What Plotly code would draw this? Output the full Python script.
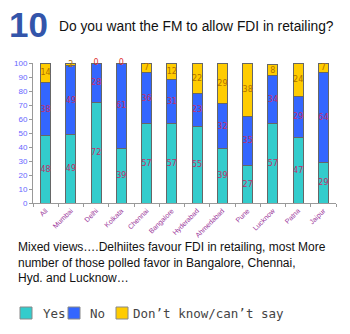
import plotly.graph_objects as go

cities = ["All", "Mumbai", "Delhi", "Kolkata", "Chennai", "Bangalore", "Hyderabad",
          "Ahmedabad", "Pune", "Lucknow", "Patna", "Jaipur"]
yes_vals = [48, 49, 72, 39, 57, 57, 55, 39, 27, 57, 47, 29]
no_vals = [38, 49, 28, 61, 36, 31, 23, 32, 35, 34, 29, 64]
dk_vals = [14, 2, 0, 0, 7, 12, 22, 29, 38, 8, 24, 7]

series = [
    ("Yes", yes_vals, "#33cccc", "#c0306a"),
    ("No", no_vals, "#3366ff", "#c0306a"),
    ("Don\u2019t know/can\u2019t say", dk_vals, "#ffcc00", "#b07000"),
]

W, H = 350, 334
ml, mr, mt, mb = 33, 14, 63, 131
pw, ph = W - ml - mr, H - mt - mb


def px_x(x):
    return (x - ml) / pw


def px_y(y):
    return 1 - (y - mt) / ph


fig = go.Figure()
for name, vals, color, tcolor in series:
    fig.add_trace(go.Bar(
        x=cities, y=vals, name=name,
        marker=dict(color=color, line=dict(color="#666666", width=1)),
        width=0.4,
        text=[str(v) if v > 0 else "" for v in vals],
        textposition="inside",
        insidetextanchor="middle",
        constraintext="none",
        textangle=0,
        textfont=dict(family="DejaVu Sans", size=8, color=tcolor),
        cliponaxis=False,
        hoverinfo="skip",
        showlegend=False,
    ))

# zero-height segments: label drawn at the top of the stack, as in the reference
zero_x, zero_y, zero_t = [], [], []
for i, c in enumerate(cities):
    if dk_vals[i] == 0:
        zero_x.append(c)
        zero_y.append(yes_vals[i] + no_vals[i] + dk_vals[i])
        zero_t.append(str(dk_vals[i]))
fig.add_trace(go.Scatter(
    x=zero_x, y=zero_y, text=zero_t, mode="text", textposition="middle center",
    textfont=dict(family="DejaVu Sans", size=8, color="#e03030"),
    cliponaxis=False, hoverinfo="skip", showlegend=False,
))

# manual legend (squares + labels) matching the reference layout
legend_sq_x = [20, 68, 116]
legend_txt_x = [41, 88, 131]
shapes = []
annotations = []
for (name, vals, color, tcolor), sx, tx in zip(series, legend_sq_x, legend_txt_x):
    shapes.append(dict(type="rect", xref="paper", yref="paper",
                       x0=px_x(sx), x1=px_x(sx + 12), y0=px_y(307), y1=px_y(319),
                       fillcolor=color, line=dict(color="#888888", width=1)))
    annotations.append(dict(text=name, x=px_x(tx), y=px_y(313), xref="paper", yref="paper",
                            showarrow=False, xanchor="left", yanchor="middle",
                            font=dict(family="DejaVu Sans Mono", size=12.5, color="#444444")))

annotations += [
    dict(text="<b>10</b>", x=px_x(7), y=px_y(3), xref="paper", yref="paper", showarrow=False,
         xanchor="left", yanchor="top",
         font=dict(family="Liberation Sans", size=35, color="#3355aa")),
    dict(text="Do you want the FM to allow FDI in retailing?", x=px_x(57), y=px_y(26),
         xref="paper", yref="paper",
         showarrow=False, xanchor="left", yanchor="middle",
         font=dict(family="Liberation Sans", size=13.8, color="#111111")),
    dict(text="Mixed views\u2026.Delhiites favour FDI in retailing, most More<br>"
              "number of those polled favor in Bangalore, Chennai,<br>"
              "Hyd. and Lucknow\u2026",
         x=px_x(16), y=px_y(238), xref="paper", yref="paper",
         showarrow=False, xanchor="left", yanchor="top", align="left",
         font=dict(family="Liberation Sans", size=12, color="#111111")),
]

fig.update_layout(
    barmode="stack",
    width=W, height=H,
    margin=dict(l=ml, r=mr, t=mt, b=mb),
    paper_bgcolor="white", plot_bgcolor="white",
    showlegend=False,
    xaxis=dict(showgrid=False, showline=True, linecolor="#999999", linewidth=1,
               ticks="outside", ticklen=3, tickcolor="#999999", tickson="boundaries",
               tickangle=-45, tickfont=dict(family="Liberation Sans", size=7, color="#993399")),
    yaxis=dict(range=[0, 100], dtick=10, showgrid=False, showline=True,
               linecolor="#999999", linewidth=1, ticks="outside", ticklen=3,
               tickcolor="#999999", zeroline=False,
               tickfont=dict(family="Liberation Sans", size=8, color="#6666ff")),
    shapes=shapes,
    annotations=annotations,
)

fig.write_html("out.html")
